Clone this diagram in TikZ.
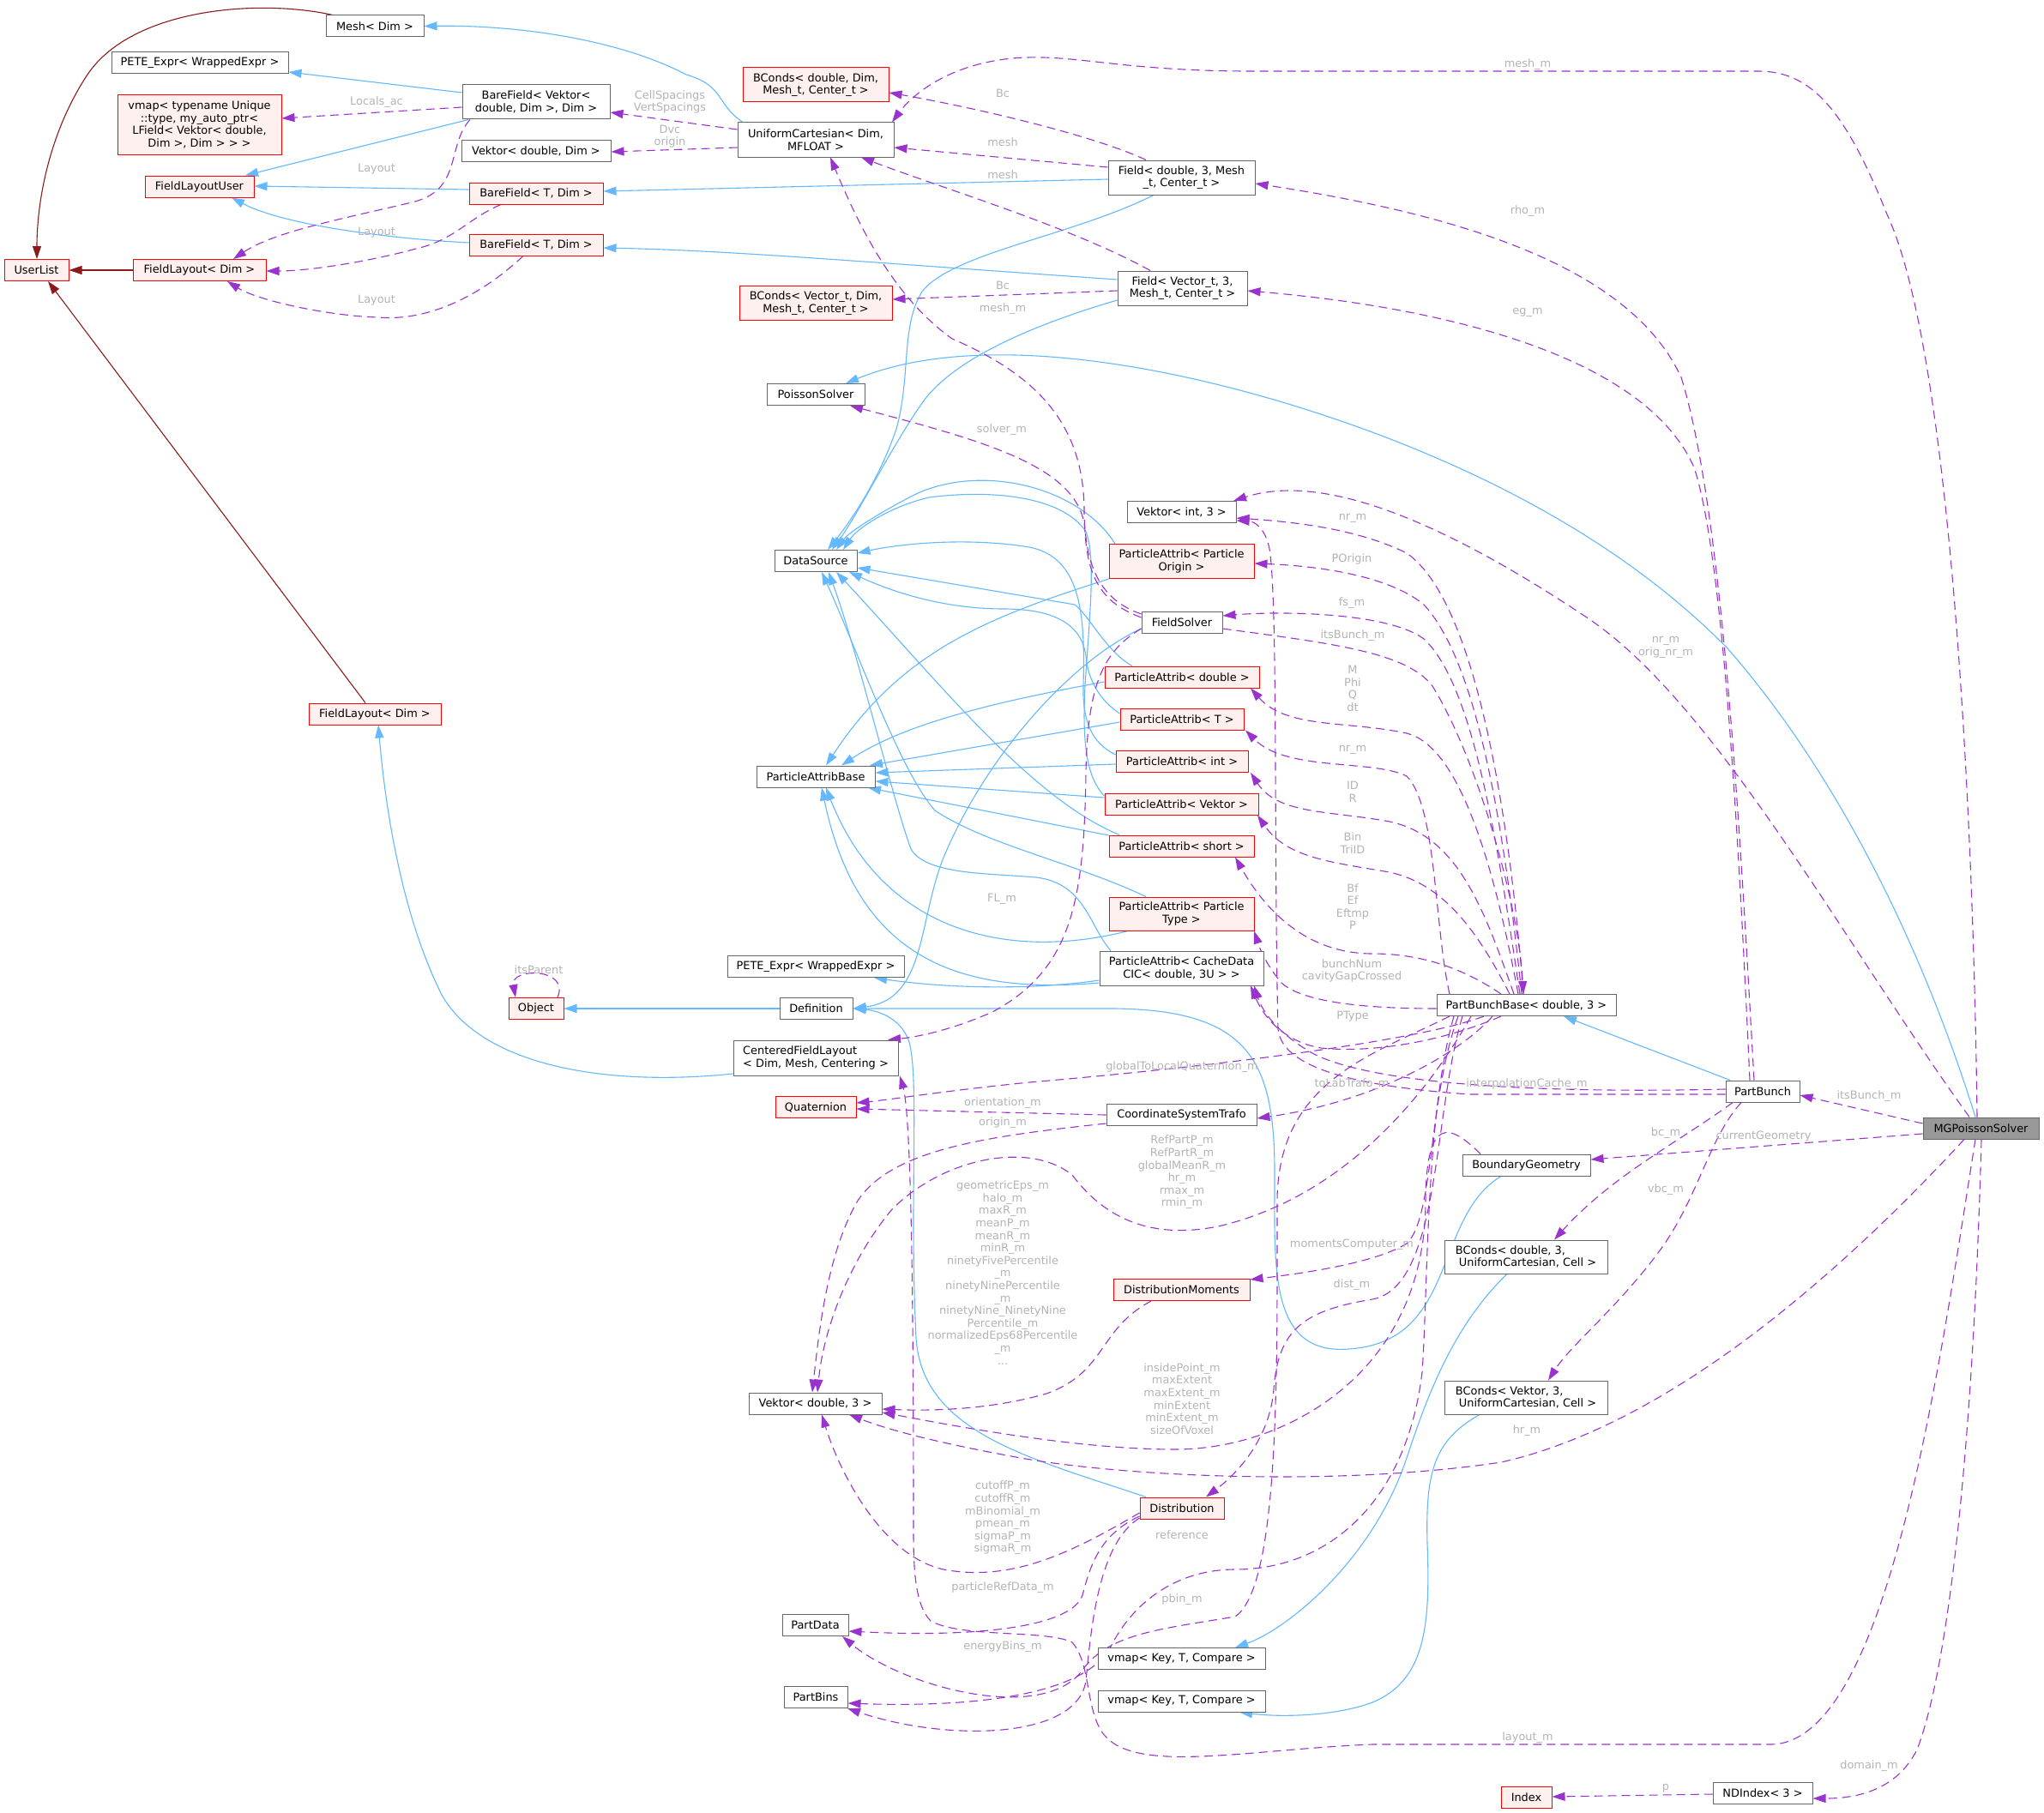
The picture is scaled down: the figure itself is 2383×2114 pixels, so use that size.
\documentclass[tikz,border=0pt]{standalone}
\usepackage{fontspec}
\setmainfont{DejaVu Sans}
\usetikzlibrary{arrows.meta}
\definecolor{inhblue}{HTML}{63B8FF}
\definecolor{usepurple}{HTML}{9A32CD}
\definecolor{owndark}{HTML}{8B1A1A}
\definecolor{boxgrey}{HTML}{666666}
\definecolor{redfill}{HTML}{FFF0F0}
\definecolor{redborder}{HTML}{FF0000}
\definecolor{mgpgrey}{HTML}{999999}
\definecolor{lblgrey}{HTML}{B4B4B4}
\newcommand{\dgfont}{\fontsize{6.45}{7.3}\selectfont}
\pgfdeclarelayer{edges}
\pgfsetlayers{edges,main}
\tikzset{
  cbox/.style={draw=boxgrey, fill=white, line width=0.5pt, inner sep=0pt, minimum height=12.5pt, align=center, font=\dgfont},
  redbox/.style={cbox, draw=redborder, fill=redfill},
  lbl/.style={text=lblgrey, font=\dgfont, align=center, inner sep=0pt},
  inhedge/.style={draw=inhblue, line width=0.55pt, -{Triangle[length=7.5pt,width=5pt]}},
  usedge/.style={draw=usepurple, line width=0.55pt, dash pattern=on 5pt off 3pt, -{Triangle[length=7.5pt,width=5pt]}},
  ownedge/.style={draw=owndark, line width=0.55pt, -{Triangle[length=7.5pt,width=5pt]}}
}
\begin{document}
\begin{tikzpicture}[x=0.5pt,y=-0.5pt]
\useasboundingbox (0,0) rectangle (2383,2114);
% ---------------- nodes ----------------
\node[cbox, minimum width=57pt] (mesh) at (437,30.5) {Mesh< Dim >};
\node[cbox, minimum width=103pt] (pete1) at (233,73.5) {PETE\_Expr< WrappedExpr >};
\node[redbox, minimum width=95.5pt, minimum height=34.5pt] (vmapu) at (232.5,145.5) {vmap< typename Unique\\::type, my\_auto\_ptr<\\LField< Vektor< double,\\Dim >, Dim > > >};
\node[cbox, minimum width=86pt, minimum height=20pt] (bfv) at (625,119) {BareField< Vektor<\\double, Dim >, Dim >};
\node[cbox, minimum width=87pt] (vdd) at (625,176) {Vektor< double, Dim >};
\node[redbox, minimum width=63.5pt] (flu) at (232.5,217.5) {FieldLayoutUser};
\node[redbox, minimum width=78pt] (bf1) at (625,225.5) {BareField< T, Dim >};
\node[redbox, minimum width=78pt] (bf2) at (625,285.5) {BareField< T, Dim >};
\node[redbox, minimum width=37.5pt] (ul) at (42.5,315) {UserList};
\node[redbox, minimum width=77.5pt] (fl1) at (232.5,315) {FieldLayout< Dim >};
\node[redbox, minimum width=85pt, minimum height=20pt] (bcdd) at (951,99) {BConds< double, Dim,\\Mesh\_t, Center\_t >};
\node[cbox, minimum width=91pt, minimum height=20pt] (uc) at (951,163) {UniformCartesian< Dim,\\MFLOAT >};
\node[cbox, minimum width=85.5pt, minimum height=20pt] (fd) at (1377.5,207) {Field< double, 3, Mesh\\\_t, Center\_t >};
\node[cbox, minimum width=75.5pt, minimum height=20pt] (fv) at (1378.5,336) {Field< Vector\_t, 3,\\Mesh\_t, Center\_t >};
\node[redbox, minimum width=89pt, minimum height=20pt] (bcvd) at (951,353.5) {BConds< Vector\_t, Dim,\\Mesh\_t, Center\_t >};
\node[cbox, minimum width=57pt] (ps) at (951,460) {PoissonSolver};
\node[cbox, minimum width=48pt] (ds) at (951,654) {DataSource};
\node[cbox, minimum width=63.5pt] (vint) at (1377.5,597) {Vektor< int, 3 >};
\node[redbox, minimum width=84.5pt, minimum height=20pt] (pao) at (1377.5,654.5) {ParticleAttrib< Particle\\Origin >};
\node[cbox, minimum width=47pt] (fs) at (1378,725.5) {FieldSolver};
\node[redbox, minimum width=90pt] (pad) at (1378,789.5) {ParticleAttrib< double >};
\node[redbox, minimum width=72pt] (pat) at (1378,838.5) {ParticleAttrib< T >};
\node[redbox, minimum width=77pt] (pai) at (1378,888) {ParticleAttrib< int >};
\node[cbox, minimum width=69pt] (pab) at (951,905.5) {ParticleAttribBase};
\node[redbox, minimum width=89.5pt] (pav) at (1377.5,937.5) {ParticleAttrib< Vektor >};
\node[redbox, minimum width=84.5pt] (pas) at (1377.5,986.5) {ParticleAttrib< short >};
\node[redbox, minimum width=84.5pt, minimum height=19.5pt] (papt) at (1377.5,1065.5) {ParticleAttrib< Particle\\Type >};
\node[cbox, minimum width=95.5pt, minimum height=20pt] (pac) at (1377.5,1129) {ParticleAttrib< CacheData\\CIC< double, 3U > >};
\node[cbox, minimum width=103pt] (pete2) at (951,1127) {PETE\_Expr< WrappedExpr >};
\node[redbox, minimum width=77pt] (fl2) at (437,832.5) {FieldLayout< Dim >};
\node[redbox, minimum width=32pt] (obj) at (625,1176) {Object};
\node[cbox, minimum width=42.5pt] (def) at (951.5,1176) {Definition};
\node[cbox, minimum width=96pt, minimum height=20.5pt, align=left] (cfl) at (951,1233.5) {CenteredFieldLayout\\< Dim, Mesh, Centering >};
\node[redbox, minimum width=47pt] (quat) at (951,1291) {Quaternion};
\node[cbox, minimum width=87.5pt] (cst) at (1377.5,1300) {CoordinateSystemTrafo};
\node[cbox, minimum width=104.5pt] (pbb) at (1779.5,1172) {PartBunchBase< double, 3 >};
\node[cbox, minimum width=43pt] (pb) at (2055,1272.5) {PartBunch};
\node[cbox, fill=mgpgrey, minimum width=67.5pt] (mgp) at (2309.5,1315.5) {MGPoissonSolver};
\node[cbox, minimum width=74.5pt] (bg) at (1779.5,1358.5) {BoundaryGeometry};
\node[cbox, minimum width=95pt, minimum height=19.5pt, align=left] (bcd3) at (1779,1465.5) {BConds< double, 3,\\\hspace{2pt}UniformCartesian, Cell >};
\node[redbox, minimum width=79.5pt] (dm) at (1377.5,1504) {DistributionMoments};
\node[cbox, minimum width=77.5pt] (vd3) at (950.5,1636.5) {Vektor< double, 3 >};
\node[cbox, minimum width=95pt, minimum height=19.5pt, align=left] (bcv3) at (1779,1629.5) {BConds< Vektor, 3,\\\hspace{2pt}UniformCartesian, Cell >};
\node[redbox, minimum width=49pt] (dist) at (1378,1758.5) {Distribution};
\node[cbox, minimum width=38.5pt] (pd) at (950.5,1895) {PartData};
\node[cbox, minimum width=97.5pt] (vm1) at (1377.5,1934) {vmap< Key, T, Compare >};
\node[cbox, minimum width=37pt] (pbins) at (951,1979) {PartBins};
\node[cbox, minimum width=97.5pt] (vm2) at (1377.5,1983.5) {vmap< Key, T, Compare >};
\node[cbox, minimum width=58pt] (ndi) at (2055,2091) {NDIndex< 3 >};
\node[redbox, minimum width=29.5pt] (idx) at (1779.5,2096) {Index};
% ---------------- labels ----------------
\node[lbl] (lLocals) at (439,119) {Locals\_ac};
\node[lbl] (lLay1) at (439,197) {Layout};
\node[lbl] (lLay2) at (439,271) {Layout};
\node[lbl] (lLay3) at (439,350) {Layout};
\node[lbl] (lCell) at (781,119) {CellSpacings\\VertSpacings};
\node[lbl] (lDvc) at (781,159) {Dvc\\origin};
\node[lbl] (lBc1) at (1169,109) {Bc};
\node[lbl] (lmesh1) at (1169,166) {mesh};
\node[lbl] (lmesh2) at (1169,204) {mesh};
\node[lbl] (lBc2) at (1169,333) {Bc};
\node[lbl] (lmeshm) at (1169,360) {mesh\_m};
\node[lbl] (lsolver) at (1168,501) {solver\_m};
\node[lbl] (lmeshm2) at (1781,75) {mesh\_m};
\node[lbl] (lrho) at (1781,246) {rho\_m};
\node[lbl] (leg) at (1781,364) {eg\_m};
\node[lbl] (lnr1) at (1577,604) {nr\_m};
\node[lbl] (lPOrigin) at (1576,652) {POrigin};
\node[lbl] (lfs) at (1576,703) {fs\_m};
\node[lbl] (litsB1) at (1577,741) {itsBunch\_m};
\node[lbl] (lMPhi) at (1577,803) {M\\Phi\\Q\\dt};
\node[lbl] (lnr2) at (1577,874) {nr\_m};
\node[lbl] (lIDR) at (1577,923) {ID\\R};
\node[lbl] (lBin) at (1577,983) {Bin\\TriID};
\node[lbl] (lBf) at (1577,1057) {Bf\\Ef\\Eftmp\\P};
\node[lbl] (lbunch) at (1576,1132) {bunchNum\\cavityGapCrossed};
\node[lbl] (lPType) at (1577,1185) {PType};
\node[lbl] (lnrorig) at (1942,755) {nr\_m\\orig\_nr\_m};
\node[lbl] (lglobal) at (1378,1244) {globalToLocalQuaternion\_m};
\node[lbl] (ltoLab) at (1576,1264) {toLabTrafo\_m};
\node[lbl] (linterp) at (1780,1264) {interpolationCache\_m};
\node[lbl] (litsB2) at (2179,1278) {itsBunch\_m};
\node[lbl] (lbc) at (1942,1321) {bc\_m};
\node[lbl] (lcurr) at (2056,1325) {currentGeometry};
\node[lbl] (lvbc) at (1942,1387) {vbc\_m};
\node[lbl] (lorient) at (1169,1286) {orientation\_m};
\node[lbl] (lorigin) at (1169,1309) {origin\_m};
\node[lbl] (lRefPart) at (1378,1367) {RefPartP\_m\\RefPartR\_m\\globalMeanR\_m\\hr\_m\\rmax\_m\\rmin\_m};
\node[lbl] (lgeom) at (1169,1484) {geometricEps\_m\\halo\_m\\maxR\_m\\meanP\_m\\meanR\_m\\minR\_m\\ninetyFivePercentile\\\_m\\ninetyNinePercentile\\\_m\\ninetyNine\_NinetyNine\\Percentile\_m\\normalizedEps68Percentile\\\_m\\...};
\node[lbl] (lmoments) at (1576,1451) {momentsComputer\_m};
\node[lbl] (ldist) at (1576,1498) {dist\_m};
\node[lbl] (linside) at (1378,1631) {insidePoint\_m\\maxExtent\\maxExtent\_m\\minExtent\\minExtent\_m\\sizeOfVoxel};
\node[lbl] (lhr) at (1780,1668) {hr\_m};
\node[lbl] (lcutoff) at (1169,1770) {cutoffP\_m\\cutoffR\_m\\mBinomial\_m\\pmean\_m\\sigmaP\_m\\sigmaR\_m};
\node[lbl] (lref) at (1378,1790) {reference};
\node[lbl] (lpRef) at (1169,1851) {particleRefData\_m};
\node[lbl] (lpbin) at (1378,1865) {pbin\_m};
\node[lbl] (lenergy) at (1169,1920) {energyBins\_m};
\node[lbl] (llayout) at (1781,2026) {layout\_m};
\node[lbl] (ldomain) at (2179,2059) {domain\_m};
\node[lbl] (lp) at (1942,2085) {p};
\node[lbl] (lFL) at (1168,1048) {FL\_m};
\node[lbl] (lparent) at (628,1131) {itsParent};
% ---------------- edges ----------------
\begin{pgfonlayer}{edges}
\fill[white] (0,0) rectangle (2383,2114);
% dark red
\draw[ownedge] (388,0 |- mesh.north) .. controls (300,-2) and (150,10) .. (100,90) .. controls (55,160) and (43,240) .. (43,0 |- ul.north);
\draw[ownedge] (fl1.west) -- (ul.east);
\draw[ownedge] (426,0 |- fl2.north) -- (56,0 |- ul.south);
% blue inheritance
\draw[inhedge] (866,0 |- uc.north) .. controls (835,122) and (845,100) .. (800,87) .. controls (720,45) and (600,29) .. (mesh.east);
\draw[inhedge] (bfv.west |- 0,108) -- (pete1.east |- 0,84);
\draw[inhedge] (546,0 |- bfv.south) -- (286,0 |- flu.north);
\draw[inhedge] (bf1.west |- 0,221) -- (flu.east |- 0,217);
\draw[inhedge] (bf2.west |- 0,283) .. controls (450,278) and (330,262) .. (270,0 |- flu.south);
\draw[inhedge] (fd.west |- 0,209) -- (bf1.east |- 0,223);
\draw[inhedge] (fv.west |- 0,326) .. controls (1000,305) and (850,292) .. (bf2.east |- 0,289);
\draw[inhedge] (1345,0 |- fd.south) .. controls (1250,275) and (1110,295) .. (1075,340) .. controls (1050,380) and (1062,440) .. (1045,500) .. controls (1025,560) and (990,610) .. (965,0 |- ds.north);
\draw[inhedge] (fv.west |- 0,350) .. controls (1200,380) and (1110,420) .. (1075,470) .. controls (1040,520) and (1000,600) .. (970,0 |- ds.north);
\draw[inhedge] (2303,0 |- mgp.north) .. controls (2240,1100) and (2140,900) .. (2014,756) .. controls (1900,640) and (1750,560) .. (1600,504) .. controls (1400,430) and (1150,380) .. (986,0 |- ps.north);
\draw[inhedge] (cfl.west |- 0,1252) .. controls (700,1268) and (560,1240) .. (515,1160) .. controls (470,1070) and (450,950) .. (441,0 |- fl2.south);
\draw[inhedge] (def) -- (obj);
\draw[inhedge] (fs.west |- 0,733) .. controls (1250,770) and (1150,880) .. (1100,1000) .. controls (1070,1075) and (1080,1165) .. (def.east);
\draw[inhedge] (1750,0 |- bg.south) .. controls (1670,1420) and (1700,1565) .. (1572,1573) .. controls (1480,1580) and (1486,1480) .. (1486,1375) .. controls (1487,1240) and (1460,1178) .. (1300,1176) -- (def.east);
\draw[inhedge] (1336,0 |- dist.north) .. controls (1200,1700) and (1075,1670) .. (1068,1560) .. controls (1060,1400) and (1072,1260) .. (1060,1215) .. controls (1050,1185) and (1020,1178) .. (def.east);
\draw[inhedge] (1757,0 |- bcd3.south) .. controls (1690,1550) and (1660,1640) .. (1640,1700) .. controls (1600,1820) and (1500,1900) .. (1440,0 |- vm1.north);
\draw[inhedge] (1725,0 |- bcv3.south) .. controls (1670,1680) and (1662,1720) .. (1664,1800) .. controls (1668,1900) and (1660,1960) .. (1600,1985) .. controls (1560,2000) and (1500,2003) .. (1445,0 |- vm2.south);
\draw[inhedge] (2017,0 |- pb.north) -- (1823,0 |- pbb.south);
% ParticleAttrib -> DataSource
\draw[inhedge] (1300,0 |- pao.north) .. controls (1260,570) and (1150,540) .. (1070,575) .. controls (1030,595) and (990,620) .. (975,0 |- ds.north);
\draw[inhedge] (pav.west |- 0,928) .. controls (1265,905) and (1262,860) .. (1265,800) .. controls (1270,720) and (1278,650) .. (1266,620) .. controls (1240,580) and (1160,570) .. (1083,580) .. controls (1040,590) and (1000,615) .. (983,0 |- ds.north);
\draw[inhedge] (pai.west |- 0,880) .. controls (1272,866) and (1262,840) .. (1263,800) .. controls (1265,720) and (1262,650) .. (1200,638) .. controls (1120,625) and (1040,636) .. (ds.east |- 0,645);
\draw[inhedge] (1320,0 |- pad.north) .. controls (1290,760) and (1270,718) .. (1253,705) -- (ds.east |- 0,662);
\draw[inhedge] (pat.west |- 0,832) .. controls (1280,815) and (1268,790) .. (1266,765) .. controls (1262,735) and (1240,710) .. (1170,710) .. controls (1100,710) and (1040,690) .. (990,0 |- ds.south);
\draw[inhedge] (1305,0 |- pas.north) .. controls (1200,930) and (1090,790) .. (975,0 |- ds.south);
\draw[inhedge] (1295,0 |- pac.north) .. controls (1270,1080) and (1265,1030) .. (1208,1023) .. controls (1150,1018) and (1080,1020) .. (1062,990) .. controls (1040,930) and (1000,760) .. (966,0 |- ds.south);
\draw[inhedge] (1336,0 |- papt.north) .. controls (1250,1005) and (1150,985) .. (1090,945) .. controls (1050,900) and (1000,760) .. (958,0 |- ds.south);
% ParticleAttrib -> ParticleAttribBase
\draw[inhedge] (1293,0 |- pao.south) .. controls (1150,720) and (1050,760) .. (963,0 |- pab.north);
\draw[inhedge] (pad.west |- 0,795) .. controls (1180,815) and (1060,840) .. (981,0 |- pab.north);
\draw[inhedge] (pat.west |- 0,842) -- (1014,0 |- pab.north);
\draw[inhedge] (pai.west |- 0,891) -- (pab.east |- 0,901);
\draw[inhedge] (pav.west |- 0,930) -- (pab.east |- 0,911);
\draw[inhedge] (pas.west |- 0,974) -- (1012,0 |- pab.south);
\draw[inhedge] (1315,0 |- papt.south) .. controls (1180,1120) and (1030,1090) .. (963,0 |- pab.south);
\draw[inhedge] (pac.west |- 0,1146) .. controls (1120,1160) and (1000,1120) .. (958,0 |- pab.south);
\draw[inhedge] (pac.west |- 0,1143) .. controls (1200,1155) and (1100,1152) .. (1019,0 |- pete2.south);
% purple usage
\draw[usedge] (bfv.west |- 0,125) -- (vmapu.east |- 0,138);
\draw[usedge] (548,0 |- bfv.south) .. controls (520,170) and (540,222) .. (480,236) .. controls (400,255) and (320,270) .. (272,0 |- fl1.north);
\draw[usedge] (584,0 |- bf1.south) .. controls (545,255) and (530,280) .. (485,290) .. controls (430,305) and (360,316) .. (fl1.east |- 0,316);
\draw[usedge] (610,0 |- bf2.south) .. controls (560,345) and (500,375) .. (440,370) .. controls (380,368) and (300,350) .. (265,0 |- fl1.south);
\draw[usedge] (uc.west |- 0,151) -- (bfv.east |- 0,131);
\draw[usedge] (uc.west |- 0,172) -- (vdd.east |- 0,177);
\draw[usedge] (1336,0 |- fd.north) .. controls (1280,160) and (1150,128) .. (bcdd.east |- 0,108);
\draw[usedge] (fd.west |- 0,195) -- (uc.east |- 0,172);
\draw[usedge] (1341,0 |- fv.north) .. controls (1250,265) and (1100,220) .. (1004,0 |- uc.south);
\draw[usedge] (fv.west |- 0,339) -- (bcvd.east |- 0,349);
\draw[usedge] (fs.west |- 0,716) .. controls (1285,700) and (1266,665) .. (1264,600) .. controls (1265,500) and (1215,440) .. (1110,395) .. controls (1040,345) and (1000,260) .. (968,0 |- uc.south);
\draw[usedge] (fs.west |- 0,733) .. controls (1285,760) and (1268,800) .. (1266,900) .. controls (1264,1050) and (1250,1130) .. (1157,1180) .. controls (1100,1205) and (1060,1210) .. (1035,0 |- cfl.north);
\draw[usedge] (fs.west |- 0,720) .. controls (1290,705) and (1268,680) .. (1265,620) .. controls (1262,545) and (1150,515) .. (991,0 |- ps.south);
\draw[usedge] (fs.east |- 0,733) .. controls (1550,750) and (1640,760) .. (1670,800) .. controls (1720,880) and (1770,1050) .. (1776,0 |- pbb.north);
\draw[usedge] (1776,0 |- pbb.north) .. controls (1760,950) and (1720,700) .. (1640,645) .. controls (1580,615) and (1500,608) .. (vint.east |- 0,604);
\draw[usedge] (1774,0 |- pbb.north) .. controls (1752,950) and (1720,770) .. (1660,705) .. controls (1620,672) and (1540,660) .. (pao.east |- 0,657);
\draw[usedge] (1772,0 |- pbb.north) .. controls (1748,1000) and (1720,800) .. (1660,745) .. controls (1620,715) and (1500,712) .. (fs.east |- 0,718);
\draw[usedge] (1770,0 |- pbb.north) .. controls (1740,1000) and (1700,870) .. (1640,855) .. controls (1570,840) and (1500,850) .. (1458,0 |- pad.south);
\draw[usedge] (1690,0 |- pbb.north) .. controls (1672,1080) and (1675,940) .. (1640,905) .. controls (1600,885) and (1500,900) .. (1452,0 |- pat.south);
\draw[usedge] (1765,0 |- pbb.north) .. controls (1730,1060) and (1700,975) .. (1620,958) .. controls (1550,945) and (1490,950) .. (1458,0 |- pai.south);
\draw[usedge] (1760,0 |- pbb.north) .. controls (1720,1080) and (1680,1030) .. (1620,1017) .. controls (1550,1005) and (1500,1000) .. (1466,0 |- pav.south);
\draw[usedge] (1750,0 |- pbb.north) .. controls (1700,1125) and (1650,1112) .. (1600,1112) .. controls (1530,1112) and (1480,1070) .. (1440,0 |- pas.south);
\draw[usedge] (pbb.west |- 0,1176) .. controls (1600,1176) and (1520,1170) .. (1494,1146) .. controls (1480,1130) and (1470,1110) .. (1462,0 |- papt.south);
\draw[usedge] (1750,0 |- pbb.south) .. controls (1680,1215) and (1600,1228) .. (1540,1222) .. controls (1500,1215) and (1475,1190) .. (1458,0 |- pac.south);
\draw[usedge] (pb.west |- 0,1270) .. controls (1800,1275) and (1600,1265) .. (1530,1228) .. controls (1490,1205) and (1472,1180) .. (1462,0 |- pac.south);
\draw[usedge] (pb.west |- 0,1276) -- (1713,1276) .. controls (1600,1268) and (1495,1250) .. (1490,1200) .. controls (1485,1000) and (1490,700) .. (1480,640) .. controls (1475,615) and (1462,608) .. (vint.east |- 0,607);
\draw[usedge] (1730,0 |- pbb.south) .. controls (1650,1215) and (1400,1245) .. (1200,1262) .. controls (1100,1272) and (1040,1282) .. (quat.east |- 0,1286);
\draw[usedge] (1740,0 |- pbb.south) .. controls (1700,1230) and (1600,1285) .. (cst.east |- 0,1304);
\draw[usedge] (1715,0 |- pbb.south) .. controls (1650,1300) and (1550,1400) .. (1420,1430) .. controls (1330,1448) and (1280,1410) .. (1250,1370) .. controls (1200,1330) and (1100,1350) .. (1040,1410) .. controls (990,1470) and (960,1550) .. (953,0 |- vd3.north);
\draw[usedge] (cst.west |- 0,1300) -- (quat.east |- 0,1293);
\draw[usedge] (cst.west |- 0,1310) .. controls (1150,1325) and (1040,1340) .. (1000,1400) .. controls (965,1460) and (955,1550) .. (947,0 |- vd3.north);
\draw[usedge] (1342,0 |- dm.south) .. controls (1280,1550) and (1290,1600) .. (1220,1625) .. controls (1150,1645) and (1080,1645) .. (vd3.east |- 0,1643);
\draw[usedge] (1726,0 |- bg.north) .. controls (1690,1310) and (1663,1300) .. (1662,1400) .. controls (1662,1600) and (1500,1690) .. (1370,1690) .. controls (1250,1690) and (1100,1660) .. (vd3.east |- 0,1647);
\draw[usedge] (2290,0 |- mgp.south) .. controls (2150,1480) and (1950,1660) .. (1750,1705) .. controls (1550,1735) and (1300,1720) .. (1190,1700) .. controls (1080,1680) and (1030,1665) .. (990,0 |- vd3.south);
\draw[usedge] (dist.west |- 0,1764) .. controls (1250,1810) and (1180,1845) .. (1100,1830) .. controls (1030,1815) and (980,1720) .. (958,0 |- vd3.south);
\draw[usedge] (1700,0 |- pbb.south) .. controls (1665,1280) and (1672,1420) .. (1640,1450) .. controls (1600,1475) and (1500,1487) .. (dm.east |- 0,1492);
\draw[usedge] (1705,0 |- pbb.south) .. controls (1670,1300) and (1680,1500) .. (1600,1515) .. controls (1520,1528) and (1490,1550) .. (1485,1620) .. controls (1480,1680) and (1440,1720) .. (1406,0 |- dist.north);
\draw[usedge] (1690,0 |- pbb.south) .. controls (1600,1230) and (1490,1260) .. (1489,1400) .. controls (1489,1600) and (1492,1850) .. (1440,1885) .. controls (1350,1900) and (1290,1905) .. (1260,1950) .. controls (1210,2010) and (1050,1965) .. (982,0 |- pd.south);
\draw[usedge] (1695,0 |- pbb.south) .. controls (1662,1300) and (1665,1500) .. (1658,1600) .. controls (1640,1750) and (1550,1830) .. (1440,1830) .. controls (1370,1830) and (1320,1870) .. (1295,1920) .. controls (1260,1985) and (1100,1990) .. (pbins.east |- 0,1986);
\draw[usedge] (dist.west |- 0,1768) .. controls (1280,1790) and (1270,1830) .. (1262,1860) .. controls (1250,1895) and (1150,1910) .. (pd.east |- 0,1902);
\draw[usedge] (dist.west |- 0,1770) .. controls (1280,1800) and (1272,1900) .. (1266,1960) .. controls (1255,2030) and (1100,2030) .. (988,0 |- pbins.south);
\draw[usedge] (2303,0 |- mgp.south) .. controls (2260,1600) and (2200,2034) .. (2064,2034) -- (1600,2034) .. controls (1450,2040) and (1320,2070) .. (1285,2020) .. controls (1265,1990) and (1272,1940) .. (1250,1915) .. controls (1220,1900) and (1120,1910) .. (1085,1890) .. controls (1065,1870) and (1065,1820) .. (1065,1780) .. controls (1065,1500) and (1062,1300) .. (1049,0 |- cfl.south);
\draw[usedge] (2310,0 |- mgp.south) .. controls (2300,1700) and (2270,1950) .. (2235,2040) .. controls (2210,2090) and (2160,2097) .. (ndi.east |- 0,2097);
\draw[usedge] (ndi.west |- 0,2092) -- (idx.east |- 0,2095);
\draw[usedge] (mgp.west |- 0,1310) -- (pb.east |- 0,1277);
\draw[usedge] (mgp.west |- 0,1322) -- (bg.east |- 0,1352);
\draw[usedge] (2296,0 |- mgp.north) .. controls (2150,1100) and (2000,820) .. (1850,720) .. controls (1700,620) and (1550,548) .. (1438,0 |- vint.north);
\draw[usedge] (2305,0 |- mgp.north) .. controls (2300,900) and (2270,400) .. (2200,250) .. controls (2150,125) and (2110,83) .. (2050,83) -- (1450,83) .. controls (1300,82) and (1250,62) .. (1180,68) .. controls (1100,76) and (1060,115) .. (1040,0 |- uc.north);
\draw[usedge] (2045,0 |- pb.north) .. controls (2030,1000) and (2010,600) .. (1960,440) .. controls (1900,310) and (1700,250) .. (fd.east |- 0,214);
\draw[usedge] (2040,0 |- pb.north) .. controls (2028,1000) and (2010,650) .. (1975,545) .. controls (1920,420) and (1700,360) .. (fv.east |- 0,339);
\draw[usedge] (2020,0 |- pb.south) .. controls (1960,1330) and (1880,1370) .. (1812,0 |- bcd3.north);
\draw[usedge] (2030,0 |- pb.south) .. controls (1990,1330) and (1980,1400) .. (1930,1465) .. controls (1880,1530) and (1830,1570) .. (1805,0 |- bcv3.north);
\draw[usedge] (650,0 |- obj.north) .. controls (665,1128) and (595,1128) .. (601,0 |- obj.north);
\end{pgfonlayer}
\end{tikzpicture}
\end{document}
